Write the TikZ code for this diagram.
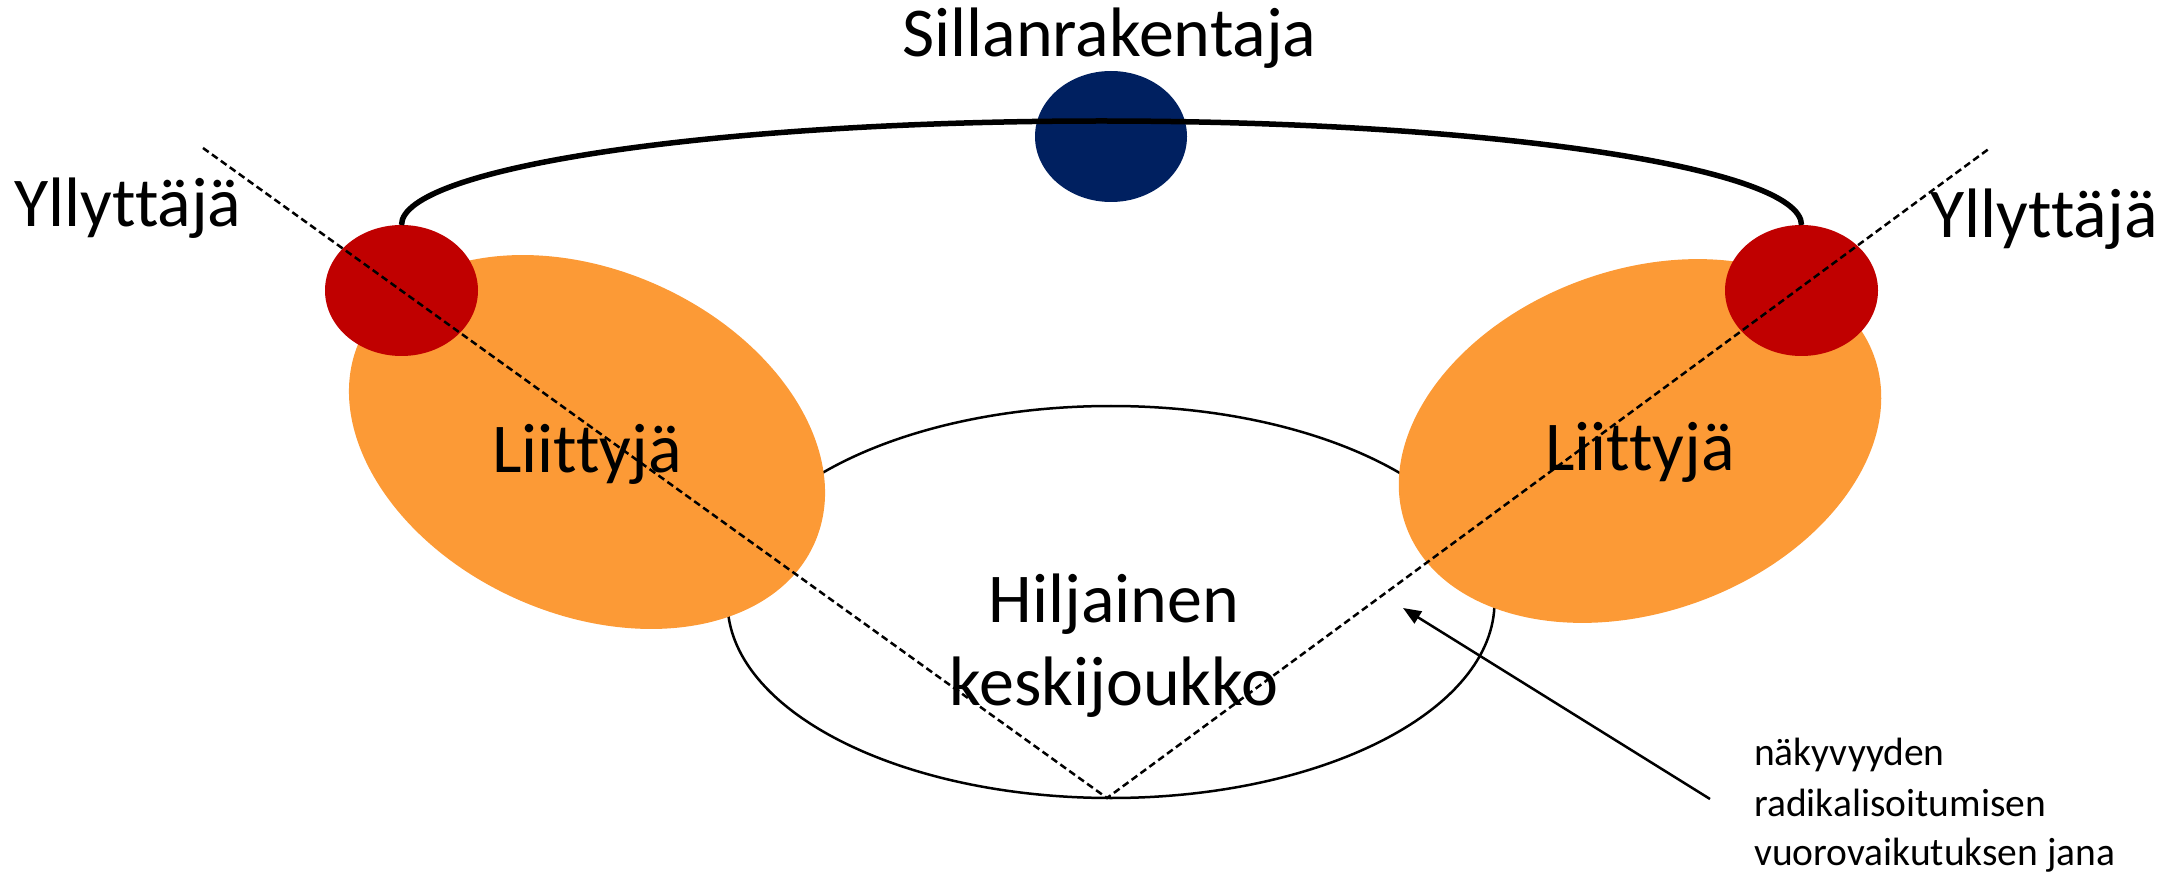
\documentclass[tikz,border=0pt]{standalone}
\usepackage{fontspec}
\setmainfont[Ligatures={NoCommon}]{Carlito}
\usetikzlibrary{shapes.geometric,arrows.meta}
\definecolor{navyC}{RGB}{0,32,96}
\definecolor{redC}{RGB}{192,0,0}
\definecolor{orangeC}{RGB}{252,154,54}
\begin{document}
\begin{tikzpicture}[x=1pt,y=-1pt,
  blob/.style={ellipse, inner sep=0pt, outer sep=0pt, draw=none},
  bigtext/.style={font=\fontsize{70}{84}\selectfont, inner sep=0pt, anchor=base},
  smalltext/.style={font=\fontsize{39.5}{48}\selectfont, inner sep=0pt, anchor=base west},
  dashline/.style={dash pattern=on 7pt off 4pt, line width=2.5pt},
  arrowline/.style={line width=2.5pt, -{Triangle[length=18pt,width=14pt]}},
]
\useasboundingbox (0,0) rectangle (2177,874);
% silent majority
\node[blob, draw=black, line width=2.5pt, minimum width=767pt, minimum height=392pt] (hk) at (1111,602) {};
% joiners
\node[blob, fill=orangeC, minimum width=498pt, minimum height=344pt, rotate=-24] (liL) at (587,442) {};
\node[blob, fill=orangeC, minimum width=498pt, minimum height=342pt, rotate=20] (liR) at (1640,441) {};
% instigators
\node[blob, fill=redC, minimum width=153pt, minimum height=131pt] (ylL) at (401.5,290.5) {};
\node[blob, fill=redC, minimum width=153pt, minimum height=131pt] (ylR) at (1801.5,290.5) {};
% bridge builder
\node[blob, fill=navyC, minimum width=152pt, minimum height=131pt] (sb) at (1111,136.5) {};
\draw[line width=5.5pt] (ylL.north) arc[start angle=180, end angle=360, x radius=700, y radius=104];
% texts
\node[bigtext] (tSb) at (1109.5,57) {Sillanrakentaja};
\node[bigtext] (tYlL) at (128,227) {Yllyttäjä};
\node[bigtext] (tYlR) at (2044,238) {Yllyttäjä};
\node[bigtext] (tLiL) at (587,472) {Liittyjä};
\node[bigtext] (tLiR) at (1640,471) {Liittyjä};
\node[bigtext] (tHk1) at (1114,622) {Hiljainen};
\node[bigtext] (tHk2) at (1114,705) {keskijoukko};
\node[smalltext] (n1) at (1754,765) {näkyvyyden};
\node[smalltext] (n2) at (1754,816) {radikalisoitumisen};
\node[smalltext] (n3) at (1754,865) {vuorovaikutuksen jana};
% dashed V
\coordinate (dL) at (203,148);
\coordinate (dB) at (1107,798);
\coordinate (dR) at (1990,148);
\draw[dashline] (dL) -- (dB) -- (dR);
% arrow
\coordinate (aT) at (1710,799);
\coordinate (aH) at (1403,608);
\draw[arrowline] (aT) -- (aH);
\end{tikzpicture}
\end{document}
